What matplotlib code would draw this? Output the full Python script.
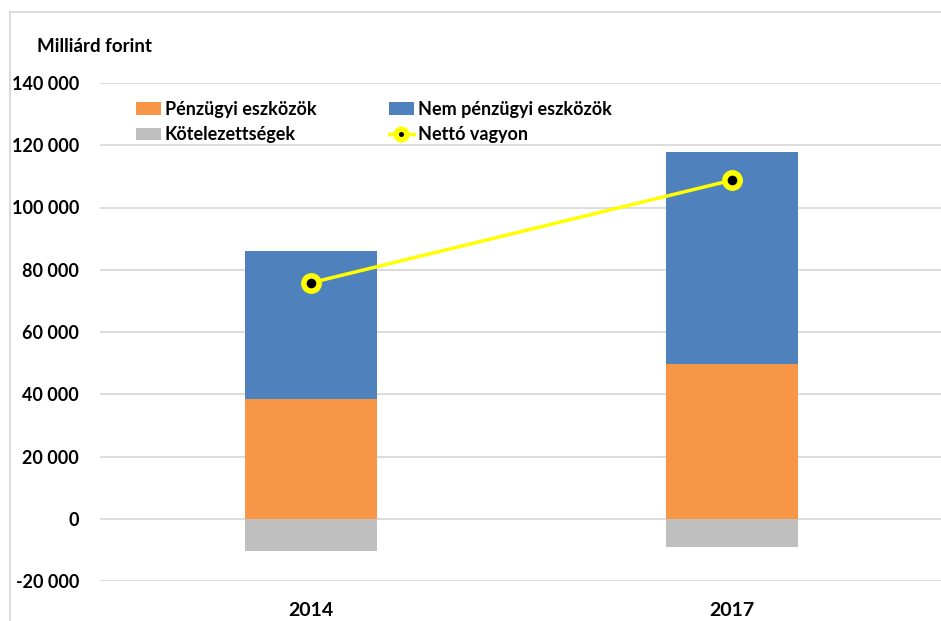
import numpy as np
import matplotlib.pyplot as plt
from matplotlib.lines import Line2D

# Data (milliárd forint)
years = ['2014', '2017']
penzugyi = [38500, 49800]
nem_penzugyi = [47500, 68000]
kotelezettseg = [-10300, -9000]
netto = [75800, 108800]

yticks = [-20000, 0, 20000, 40000, 60000, 80000, 100000, 120000, 140000]

plt.rcParams['font.family'] = ['Lato', 'DejaVu Sans']

fig = plt.figure(figsize=(9.41, 6.21), dpi=100)
ax = fig.add_axes([100/941, 1 - 581/621, 843/941, (581 - 83)/621])

x = np.arange(len(years))
w = 0.313
ax.bar(x, penzugyi, w, color='#f79646', label='Pénzügyi eszközök', zorder=2)
ax.bar(x, nem_penzugyi, w, bottom=penzugyi, color='#4f81bd',
       label='Nem pénzügyi eszközök', zorder=2)
ax.bar(x, kotelezettseg, w, color='#bfbfbf', label='Kötelezettségek', zorder=2)
ax.plot(x, netto, color='#ffff00', lw=2.5, marker='o', ms=11,
        markerfacecolor='black', markeredgecolor='#ffff00', markeredgewidth=4,
        label='Nettó vagyon', zorder=3)

ax.set_xlim(-0.5, 1.5)
ax.set_ylim(-20000, 140000)
ax.set_yticks(yticks)
ax.set_yticklabels([f'{v:,}'.replace(',', ' ') for v in yticks],
                   fontsize=13, fontweight='bold')
ax.set_xticks(x)
ax.set_xticklabels(years, fontsize=14, fontweight='bold')
ax.tick_params(axis='y', length=0, pad=15)
ax.tick_params(axis='x', length=0, pad=15)
ax.grid(axis='y', color='#d9d9d9', lw=1.3, zorder=0)
for s in ax.spines.values():
    s.set_visible(False)

fig.text(37/941, 1 - 47/621, 'Milliárd forint', fontsize=13.5,
         fontweight='bold', va='center')

h, l = ax.get_legend_handles_labels()
# legend column-major: Pénzügyi, Kötelezettségek | Nem pénzügyi, Nettó
order = [1, 3, 2, 0]
leg = ax.legend([h[i] for i in order], [l[i] for i in order], ncol=2,
                loc='upper left', bbox_to_anchor=(127/941, 1 - 92/621),
                bbox_transform=fig.transFigure, frameon=False, fontsize=13,
                handlelength=1.4, handletextpad=0.2, columnspacing=4.0,
                labelspacing=0.45, borderpad=0, markerscale=0.7)
for t in leg.get_texts():
    t.set_fontweight('bold')

# outer frame
fig.add_artist(Line2D([10/941, 1], [1 - 12/621, 1 - 12/621], color='#d9d9d9',
                      lw=1.3, transform=fig.transFigure))
fig.add_artist(Line2D([10/941, 10/941], [0, 1 - 12/621], color='#d9d9d9',
                      lw=1.3, transform=fig.transFigure))

fig.savefig('out.png', dpi=100)
